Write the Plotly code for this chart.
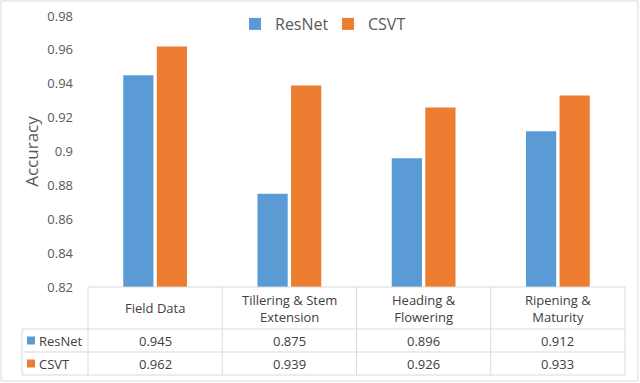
import plotly.graph_objects as go

categories = ["Field Data", "Tillering & Stem<br>Extension", "Heading &<br>Flowering", "Ripening &<br>Maturity"]
series_names = ["ResNet", "CSVT"]
resnet = [0.945, 0.875, 0.896, 0.912]
csvt = [0.962, 0.939, 0.926, 0.933]
y_ticks = [0.82, 0.84, 0.86, 0.88, 0.9, 0.92, 0.94, 0.96, 0.98]
y_tick_labels = ["0.82", "0.84", "0.86", "0.88", "0.9", "0.92", "0.94", "0.96", "0.98"]

colors = ["#5B9BD5", "#ED7D31"]
FONT = "Open Sans"
W, H = 640, 383
L, R, T, B = 88, 625, 16, 287  # plot area pixel bounds

def px(x):
    return (x - L) / (R - L)

def py(y):
    return (B - y) / (B - T)

fig = go.Figure()
for name, vals, c in zip(series_names, [resnet, csvt], colors):
    fig.add_trace(go.Bar(x=list(range(len(categories))), y=vals, name=name,
                         marker=dict(color=c, line=dict(width=0))))

shapes = []
annotations = []
grid_color = "#D9D9D9"
col_w = (R - L) / len(categories)
row_tops = [B, 329, 352, 375]

def line(x0, y0, x1, y1):
    shapes.append(dict(type="line", xref="paper", yref="paper",
                       x0=px(x0), y0=py(y0), x1=px(x1), y1=py(y1),
                       line=dict(color=grid_color, width=1)))

# horizontal lines
line(L, B, R, B)
line(22, 329, R, 329)
line(22, 352, R, 352)
line(22, 375, R, 375)
# vertical lines
line(22, 329, 22, 375)
for i in range(len(categories) + 1):
    line(L + i * col_w, B, L + i * col_w, 375)

# header texts
for i, cat in enumerate(categories):
    annotations.append(dict(xref="paper", yref="paper", x=px(L + (i + 0.5) * col_w),
                            y=py(308), text=cat, showarrow=False,
                            font=dict(family=FONT, size=13, color="#404040"),
                            xanchor="center", yanchor="middle"))
# data rows
for r, (name, vals, c) in enumerate(zip(series_names, [resnet, csvt], colors)):
    yc = (row_tops[r + 1] + row_tops[r + 2]) / 2
    shapes.append(dict(type="rect", xref="paper", yref="paper",
                       x0=px(27), x1=px(35), y0=py(yc - 4), y1=py(yc + 4),
                       fillcolor=c, line=dict(width=0)))
    annotations.append(dict(xref="paper", yref="paper", x=px(37), y=py(yc),
                            text=name, showarrow=False, xanchor="left", yanchor="middle",
                            font=dict(family=FONT, size=13, color="#404040")))
    for i, v in enumerate(vals):
        annotations.append(dict(xref="paper", yref="paper", x=px(L + (i + 0.5) * col_w),
                                y=py(yc), text=f"{v:.3f}", showarrow=False,
                                xanchor="center", yanchor="middle",
                                font=dict(family=FONT, size=13, color="#404040")))

# outer border
shapes.append(dict(type="rect", xref="paper", yref="paper",
                   x0=px(1), x1=px(638), y0=py(381), y1=py(1),
                   line=dict(color="#D9D9D9", width=1)))

fig.update_layout(
    width=W, height=H,
    margin=dict(l=L, r=W - R, t=T, b=H - B, autoexpand=False),
    paper_bgcolor="white", plot_bgcolor="white",
    barmode="group", bargap=0.5, bargroupgap=0.1,
    font=dict(family=FONT, color="#595959"),
    xaxis=dict(range=[-0.5, len(categories) - 0.5], showticklabels=False,
               showgrid=False, zeroline=False, showline=False, ticks=""),
    yaxis=dict(range=[0.82, 0.98], tickvals=y_ticks, ticktext=y_tick_labels,
               showgrid=False, zeroline=False, showline=False,
               tickfont=dict(family=FONT, size=13, color="#595959"),
               ticks="", ticklen=0, ticklabelstandoff=14,
               title=dict(text="Accuracy", font=dict(family=FONT, size=17, color="#595959"),
                          standoff=4)),
    showlegend=True,
    legend=dict(orientation="h", xref="container", yref="container",
                x=235 / W, y=1 - 24 / H, xanchor="left", yanchor="middle",
                font=dict(family=FONT, size=16, color="#595959"),
                itemwidth=30, entrywidth=48, bgcolor="rgba(0,0,0,0)"),
    shapes=shapes, annotations=annotations,
)

fig.write_html("out.html", config={"displayModeBar": False},
               post_script="document.body.style.margin='0';document.body.style.overflow='hidden';")
